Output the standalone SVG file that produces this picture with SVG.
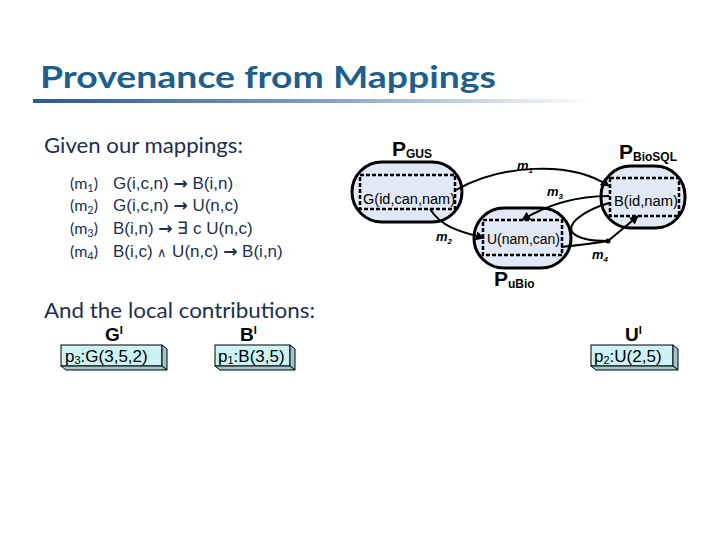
<svg xmlns="http://www.w3.org/2000/svg" width="720" height="540" viewBox="0 0 720 540">
<defs>
<linearGradient id="bar" x1="0" y1="0" x2="1" y2="0">
<stop offset="0" stop-color="#2a5a8c"/>
<stop offset="0.5" stop-color="#7f9dbd"/>
<stop offset="1" stop-color="#ffffff"/>
</linearGradient>
<marker id="ah" viewBox="0 0 10 10" refX="9" refY="5" markerWidth="4.5" markerHeight="4.5" orient="auto">
<path d="M0,0 L10,5 L0,10 z" fill="#000"/>
</marker>
<style>
.title{font-family:Lato,"Open Sans",sans-serif;font-weight:bold;font-size:31px;fill:#1e5f8e}
.body{font-family:Lato,"Open Sans",sans-serif;fill:#1c2f4f}
.f{font-family:"Liberation Sans",Arial,sans-serif;fill:#1c2f4f;font-size:17px}
.ar{font-family:"DejaVu Sans",sans-serif;font-weight:bold}
.oval{fill:#e2e9f6;stroke:#000;stroke-width:3}
.inner{fill:none;stroke:#000;stroke-width:2.5;stroke-dasharray:4 2}
.lbl{font-family:"Liberation Sans",Arial,sans-serif;font-size:14px;fill:#000}
.P{font-family:"Liberation Sans",Arial,sans-serif;font-weight:bold;fill:#000}
.m{font-family:"Liberation Sans",Arial,sans-serif;font-weight:bold;font-style:italic;font-size:13px;fill:#000}
.edge{fill:none;stroke:#000;stroke-width:2}
.front{fill:#ccf2f4;stroke:#000;stroke-width:1}
.side{fill:#9cc8cc;stroke:#000;stroke-width:1}
.bt{font-family:"Liberation Sans",Arial,sans-serif;font-size:17px;fill:#000}
.hd{font-family:"Liberation Sans",Arial,sans-serif;font-weight:bold;font-size:19px;fill:#000}
</style>
</defs>
<g id="title">
<text x="40" y="88" class="title" textLength="456" lengthAdjust="spacingAndGlyphs">Provenance from Mappings</text>
<rect x="33" y="99" width="560" height="4" fill="url(#bar)"/>
</g>
<g id="mappings">
<text x="44" y="153" class="body" font-size="21" textLength="199" lengthAdjust="spacingAndGlyphs">Given our mappings:</text>
<text x="70" y="189" class="body" font-size="16">(m<tspan font-size="11" dy="3">1</tspan><tspan dy="-3">)</tspan></text>
<text x="113" y="189" class="f">G(i,c,n) <tspan class="ar">→</tspan> B(i,n)</text>
<text x="70" y="211" class="body" font-size="16">(m<tspan font-size="11" dy="3">2</tspan><tspan dy="-3">)</tspan></text>
<text x="113" y="211" class="f">G(i,c,n) <tspan class="ar">→</tspan> U(n,c)</text>
<text x="70" y="234" class="body" font-size="16">(m<tspan font-size="11" dy="3">3</tspan><tspan dy="-3">)</tspan></text>
<text x="113" y="234" class="f">B(i,n) <tspan class="ar">→</tspan> ∃ c U(n,c)</text>
<text x="70" y="257" class="body" font-size="16">(m<tspan font-size="11" dy="3">4</tspan><tspan dy="-3">)</tspan></text>
<text x="113" y="257" class="f">B(i,c) <tspan font-size="13">∧</tspan> U(n,c) <tspan class="ar">→</tspan> B(i,n)</text>
</g>
<g id="local">
<text x="44" y="318" class="body" font-size="22" textLength="271" lengthAdjust="spacingAndGlyphs">And the local contributions:</text>
</g>
<g id="GI">
<text x="105" y="341" class="hd">G<tspan font-size="11" dy="-7">I</tspan></text>
<rect x="61" y="345" width="101" height="21" class="front"/>
<polygon points="162,345 167,349 167,370 162,366" class="side"/>
<polygon points="61,366 162,366 167,370 66,370" class="side"/>
<text x="65" y="362" class="bt">p<tspan font-size="11" dy="2">3</tspan><tspan dy="-2">:G(3,5,2)</tspan></text>
</g>
<g id="BI">
<text x="240" y="341" class="hd">B<tspan font-size="11" dy="-7">I</tspan></text>
<rect x="215" y="345" width="75" height="21" class="front"/>
<polygon points="290,345 295,349 295,370 290,366" class="side"/>
<polygon points="215,366 290,366 295,370 220,370" class="side"/>
<text x="218" y="362" class="bt">p<tspan font-size="11" dy="2">1</tspan><tspan dy="-2">:B(3,5)</tspan></text>
</g>
<g id="UI">
<text x="625" y="341" class="hd">U<tspan font-size="11" dy="-7">I</tspan></text>
<rect x="591" y="345" width="82" height="21" class="front"/>
<polygon points="673,345 678,349 678,370 673,366" class="side"/>
<polygon points="591,366 673,366 678,370 596,370" class="side"/>
<text x="594" y="362" class="bt">p<tspan font-size="11" dy="2">2</tspan><tspan dy="-2">:U(2,5)</tspan></text>
</g>
<g id="PGUS">
<rect x="352" y="162" width="110" height="60" rx="30" class="oval"/>
<rect x="360" y="175" width="95" height="34" class="inner"/>
<text x="363" y="204" class="lbl" textLength="92" lengthAdjust="spacingAndGlyphs">G(id,can,nam)</text>
<text x="392" y="156" class="P" font-size="21">P<tspan font-size="12" dy="2">GUS</tspan></text>
</g>
<g id="PBioSQL">
<rect x="601" y="166" width="84" height="62" rx="30" class="oval"/>
<rect x="610" y="178" width="69" height="38" class="inner"/>
<text x="614" y="206" class="lbl" font-size="13.5" textLength="64" lengthAdjust="spacingAndGlyphs">B(id,nam)</text>
<text x="619" y="159" class="P" font-size="21">P<tspan font-size="12" dy="2">BioSQL</tspan></text>
</g>
<g id="PuBio">
<rect x="474" y="208" width="97" height="60" rx="30" class="oval"/>
<rect x="483" y="220" width="79" height="35" class="inner"/>
<text x="487" y="244" class="lbl" textLength="73" lengthAdjust="spacingAndGlyphs">U(nam,can)</text>
<text x="494" y="286" class="P" font-size="21">P<tspan font-size="12" dy="2">uBio</tspan></text>
</g>
<g id="connectors">
<path d="M456,190 C500,165 570,160 609,186" class="edge" marker-end="url(#ah)"/>
<path d="M609,196 C575,196 545,206 522,220" class="edge" marker-end="url(#ah)"/>
<path d="M430,209 C442,228 462,232 484,238" class="edge" marker-end="url(#ah)"/>
<path d="M561,247 C580,245 595,243 608,241" class="edge"/>
<path d="M609,203 C585,210 565,224 573,233 C580,240 597,241 608,241" class="edge"/>
<path d="M608,241 L638,216" class="edge" marker-end="url(#ah)"/>
<circle cx="608" cy="241" r="2.5" fill="#000"/>
<text x="517" y="170" class="m">m<tspan font-size="8" dy="3">1</tspan></text>
<text x="547" y="196" class="m">m<tspan font-size="8" dy="3">3</tspan></text>
<text x="436" y="241" class="m">m<tspan font-size="8" dy="3">2</tspan></text>
<text x="592" y="259" class="m">m<tspan font-size="8" dy="3">4</tspan></text>
</g>
</svg>
